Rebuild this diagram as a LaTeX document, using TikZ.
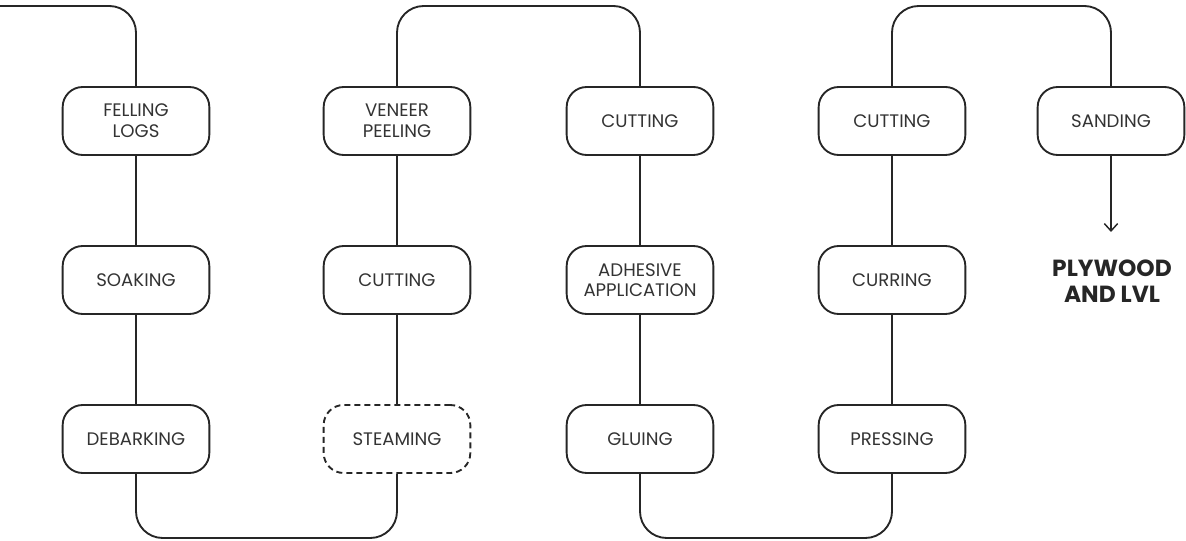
\documentclass[tikz,border=0pt]{standalone}
\usepackage{fontspec}
\setmainfont{Poppins}
\usetikzlibrary{arrows.meta}
\definecolor{ink}{HTML}{262626}
\definecolor{txt}{HTML}{333333}
\begin{document}
\begin{tikzpicture}[x=0.75pt,y=-0.75pt,
  stepbox/.style={draw=ink, line width=1.4pt, rounded corners=15pt,
    minimum width=110pt, minimum height=51pt, inner sep=0pt,
    align=center, text=txt, font=\fontsize{13.6}{15.5}\selectfont},
  optbox/.style={stepbox, dashed, dash pattern=on 4.5pt off 3pt},
  flow/.style={draw=ink, line width=1.4pt, rounded corners=20pt},
  result/.style={align=center, text=ink, font=\fontsize{17.5}{19.5}\selectfont\bfseries}]
\useasboundingbox (0,0) rectangle (1186,541);

% process steps, column by column
\node[stepbox] (n11) at (136,121) {FELLING\\LOGS};
\node[stepbox] (n12) at (136,280) {SOAKING};
\node[stepbox] (n13) at (136,439) {DEBARKING};

\node[stepbox] (n21) at (397,121) {VENEER\\PEELING};
\node[stepbox] (n22) at (397,280) {CUTTING};
\node[optbox]  (n23) at (397,439) {STEAMING};

\node[stepbox] (n31) at (640,121) {CUTTING};
\node[stepbox] (n32) at (640,280) {ADHESIVE\\APPLICATION};
\node[stepbox] (n33) at (640,439) {GLUING};

\node[stepbox] (n41) at (892,121) {CUTTING};
\node[stepbox] (n42) at (892,280) {CURRING};
\node[stepbox] (n43) at (892,439) {PRESSING};

\node[stepbox] (n51) at (1111,121) {SANDING};
\node[result]  (out) at (1112,281) {PLYWOOD\\AND LVL};

% levels of the top and bottom runs
\coordinate (start) at (0,6);
\coordinate (top) at (0,6);
\coordinate (bot) at (0,538);
\coordinate (tip) at (1111,232);

% incoming line
\draw[flow] (start) -| (n11.north);

% vertical links inside each column
\draw[flow] (n11) -- (n12);
\draw[flow] (n12) -- (n13);
\draw[flow] (n21) -- (n22);
\draw[flow] (n22) -- (n23);
\draw[flow] (n31) -- (n32);
\draw[flow] (n32) -- (n33);
\draw[flow] (n41) -- (n42);
\draw[flow] (n42) -- (n43);

% U-shaped links between columns
\draw[flow] (n13.south) -- (n13.south |- bot) -- (n23.south |- bot) -- (n23.south);
\draw[flow] (n21.north) -- (n21.north |- top) -- (n31.north |- top) -- (n31.north);
\draw[flow] (n33.south) -- (n33.south |- bot) -- (n43.south |- bot) -- (n43.south);
\draw[flow] (n41.north) -- (n41.north |- top) -- (n51.north |- top) -- (n51.north);

% final arrow
\draw[draw=ink, line width=1.1pt, -{Straight Barb[length=5.5pt,width=10pt,line width=1.1pt]}] (n51.south) -- (tip);
\end{tikzpicture}
\end{document}
